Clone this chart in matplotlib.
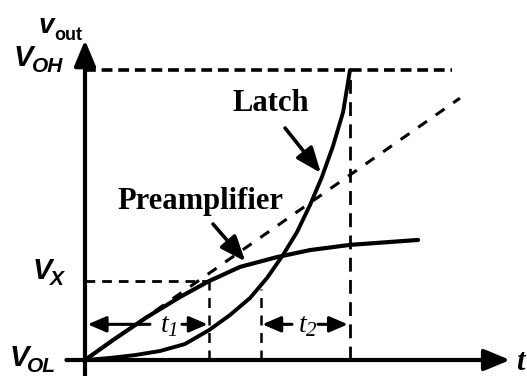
import matplotlib.pyplot as plt

# --- data (t normalised so the latch hits V_OH at t = 1, v normalised V_OL=0 .. V_OH=1) ---
V_OH = 1.0
V_X = 0.272

pre_t = [0, 0.106, 0.234, 0.358, 0.468, 0.585, 0.725, 0.849, 1.0, 1.257]
pre_v = [0, 0.069, 0.148, 0.217, 0.272, 0.321, 0.355, 0.379, 0.397, 0.414]

latch_t = [0, 0.094, 0.189, 0.283, 0.377, 0.468, 0.547, 0.623, 0.687, 0.747,
           0.800, 0.849, 0.894, 0.936, 0.974, 1.0]
latch_v = [0, 0.007, 0.017, 0.031, 0.055, 0.103, 0.155, 0.214, 0.283, 0.362,
           0.441, 0.534, 0.631, 0.738, 0.855, 1.0]

# small-signal (linear) extension of the preamp
lin_t = [0, 1.415]
lin_v = [0, 0.903]

t1_span = [0, 0.468]
t2_span = [0.664, 1.0]
t2_start_v = 0.245
voh_end = 1.385

fig = plt.figure(figsize=(5.27, 3.76), dpi=100)
ax = fig.add_axes([0, 0, 1, 1])
ax.set_xlim(-85 / 265, 442 / 265)
ax.set_ylim(-16 / 290, 360 / 290)
ax.axis('off')

K = 'black'
axis_arrow = dict(arrowstyle='-|>,head_length=0.6,head_width=0.25', lw=3.0, color=K,
                  shrinkA=0, shrinkB=0, mutation_scale=26)

# axes
ax.annotate('', xy=(0, 1.103), xytext=(0, -0.06), arrowprops=axis_arrow)
ax.annotate('', xy=(1.604, 0), xytext=(-0.07, 0), arrowprops=axis_arrow)

# reference levels
ax.plot([0, voh_end], [V_OH, V_OH], color=K, lw=2.6, dashes=(3.0, 1.6), solid_capstyle='butt')
ax.plot([0, t1_span[1]], [V_X, V_X], color=K, lw=2.0, dashes=(3.5, 2.5))
ax.plot([t1_span[1], t1_span[1]], [0, V_X], color=K, lw=1.8, dashes=(4, 3))
ax.plot([t2_span[0], t2_span[0]], [0, t2_start_v], color=K, lw=1.8, dashes=(4, 3))
ax.plot([t2_span[1], t2_span[1]], [0, V_OH], color=K, lw=2.0, dashes=(5, 3))

# curves
ax.plot(lin_t, lin_v, color=K, lw=2.2, dashes=(3.5, 3.5))
ax.plot(pre_t, pre_v, color=K, lw=3.0, solid_capstyle='round', solid_joinstyle='round')
ax.plot(latch_t, latch_v, color=K, lw=2.8, solid_capstyle='round', solid_joinstyle='round')

# interval markers t1 / t2
dim_arrow = dict(arrowstyle='-|>,head_length=0.7,head_width=0.3', lw=2.2, color=K,
                 shrinkA=0, shrinkB=0, mutation_scale=16)
ya = 0.123
ax.annotate('', xy=(t1_span[0] + 0.01, ya), xytext=(0.245, ya), arrowprops=dim_arrow)
ax.annotate('', xy=(t1_span[1] - 0.005, ya), xytext=(0.366, ya), arrowprops=dim_arrow)
ax.annotate('', xy=(t2_span[0] + 0.005, ya), xytext=(0.781, ya), arrowprops=dim_arrow)
ax.annotate('', xy=(t2_span[1] - 0.008, ya), xytext=(0.879, ya), arrowprops=dim_arrow)

serif_it = dict(family='Liberation Serif', style='italic', color=K)
ax.text(0.300, 0.120, 't', fontsize=20, ha='center', va='center', **serif_it)
ax.text(0.332, 0.098, '1', fontsize=15, ha='center', va='center', **serif_it)
ax.text(0.820, 0.120, 't', fontsize=20, ha='center', va='center', **serif_it)
ax.text(0.855, 0.098, '2', fontsize=15, ha='center', va='center', **serif_it)
ax.text(1.66, -0.01, 't', fontsize=22, ha='right', va='center', weight='bold', **serif_it)

# curve labels
lbl_arrow = dict(arrowstyle='-|>,head_length=0.7,head_width=0.28', lw=2.6, color=K,
                 shrinkA=0, shrinkB=0, mutation_scale=22)
ax.text(0.702, 0.886, 'Latch', fontsize=22, family='Liberation Serif', weight='bold',
        ha='center', va='center', color=K)
ax.annotate('', xy=(0.89, 0.645), xytext=(0.755, 0.80), arrowprops=lbl_arrow)
ax.text(0.434, 0.545, 'Preamplifier', fontsize=22, family='Liberation Serif', weight='bold',
        ha='center', va='center', color=K)
ax.annotate('', xy=(0.605, 0.340), xytext=(0.483, 0.469), arrowprops=lbl_arrow)

# axis labels
sans_bi = dict(family='Liberation Sans', style='italic', weight='bold', color=K)
ax.text(-0.118, 1.152, 'v', fontsize=20, ha='right', va='center', **sans_bi)
ax.text(-0.116, 1.118, 'out', fontsize=13, ha='left', va='center',
        family='Liberation Sans', weight='bold', color=K)

def level_label(v, sub, split, dv):
    # "V" ends at split, its subscript starts there
    ax.text(split, v + dv + 0.03, 'V', fontsize=21, ha='right', va='center', **sans_bi)
    ax.text(split - 0.006, v + dv, sub, fontsize=15, ha='left', va='center', **sans_bi)

level_label(V_OH, 'OH', -0.195, 0.012)
level_label(V_X, 'X', -0.125, 0.004)
level_label(0, 'OL', -0.212, -0.022)

fig.savefig('out.png', dpi=100)
